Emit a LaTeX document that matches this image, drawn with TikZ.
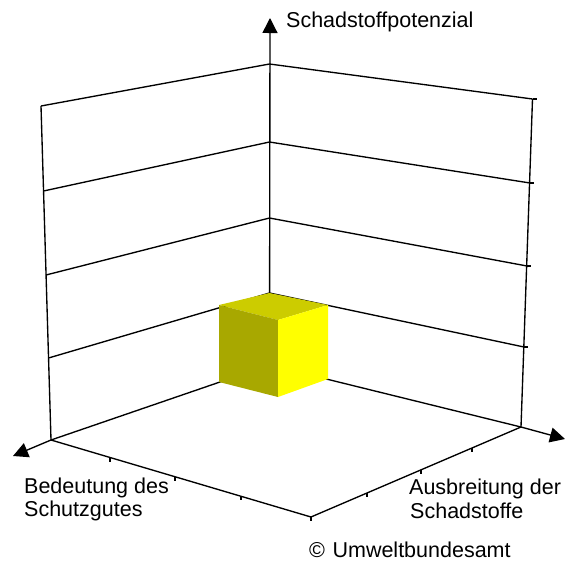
\documentclass[tikz,border=0pt]{standalone}
\usepackage{fontspec}
\setmainfont{Liberation Sans}
\usetikzlibrary{arrows.meta}
\definecolor{cubetop}{RGB}{204,204,0}
\definecolor{cubeleft}{RGB}{168,168,0}
\definecolor{cuberight}{RGB}{255,255,0}
\begin{document}
\begin{tikzpicture}[x=1pt,y=-1pt,
  gridline/.style={line width=1.35pt,black},
  axisarrow/.style={line width=1.35pt,black,-{Triangle[length=15pt,width=15pt]}},
  ticklbl/.style={line width=1.1pt,black},
  lbl/.style={anchor=base west,inner sep=0pt,font=\fontsize{21.5}{24}\selectfont}]
\useasboundingbox (0,0) rectangle (570,563);
% back corner levels
\coordinate (B0) at (269.5,365);
\coordinate (B1) at (269.5,293);
\coordinate (B2) at (269.5,218);
\coordinate (B3) at (269.5,142);
\coordinate (B4) at (269.5,64);
% left wall edge
\coordinate (L0) at (51,440);
\coordinate (L1) at (48.5,358);
\coordinate (L2) at (46,275);
\coordinate (L3) at (43.5,191);
\coordinate (L4) at (41,106);
% right wall edge
\coordinate (R0) at (521,427);
\coordinate (R1) at (524,347);
\coordinate (R2) at (527,266);
\coordinate (R3) at (530,183);
\coordinate (R4) at (532.5,99);
% front floor corner
\coordinate (F) at (311,517);
% arrow tips
\coordinate (TZ) at (270,18);
\coordinate (TL) at (13,456);
\coordinate (TR) at (565,439);
% walls
\draw[gridline] (L0) -- (L4);
\draw[gridline] (R0) -- (R4);
\foreach \i in {1,2,3,4} {
  \draw[gridline] (L\i) -- (B\i) -- (R\i);
}
% right edge ticks
\foreach \i in {1,2,3,4} {
  \draw[ticklbl] (R\i) -- ++(4,0);
}
% floor
\draw[gridline] (L0) -- (B0) -- (R0);
\draw[gridline] (L0) -- (F) -- (R0);
% floor ticks
\foreach \x/\y in {110/457.5,175/476.7,241/496.3,311/517,367/493,421/469.5,472/447.5} {
  \draw[ticklbl] (\x,\y) -- (\x,\y+4);
}
% axes
\draw[axisarrow] (B0) -- (TZ);
\draw[axisarrow] (L0) -- (TL);
\draw[axisarrow] (R0) -- (TR);
% cube
\coordinate (CTb) at (269.5,293);
\coordinate (CTl) at (219,305);
\coordinate (CTf) at (278,320);
\coordinate (CTr) at (328,305);
\coordinate (CBl) at (219,382);
\coordinate (CBf) at (278,397);
\coordinate (CBr) at (328,379);
\fill[cubetop] (CTb) -- (CTl) -- (CTf) -- (CTr) -- cycle;
\fill[cubeleft] (CTl) -- (CTf) -- (CBf) -- (CBl) -- cycle;
\fill[cuberight] (CTf) -- (CTr) -- (CBr) -- (CBf) -- cycle;
% labels
\node[lbl] (zlabel) at (286,27) {Schadstoffpotenzial};
\node[lbl] (bed1) at (24,493) {Bedeutung des};
\node[lbl] (bed2) at (24,516) {Schutzgutes};
\node[lbl] (aus1) at (409,494) {Ausbreitung der};
\node[lbl] (aus2) at (410,518) {Schadstoffe};
\node[lbl] (copy) at (309,557) {©\hspace{0.35em}Umweltbundesamt};
\end{tikzpicture}
\end{document}
